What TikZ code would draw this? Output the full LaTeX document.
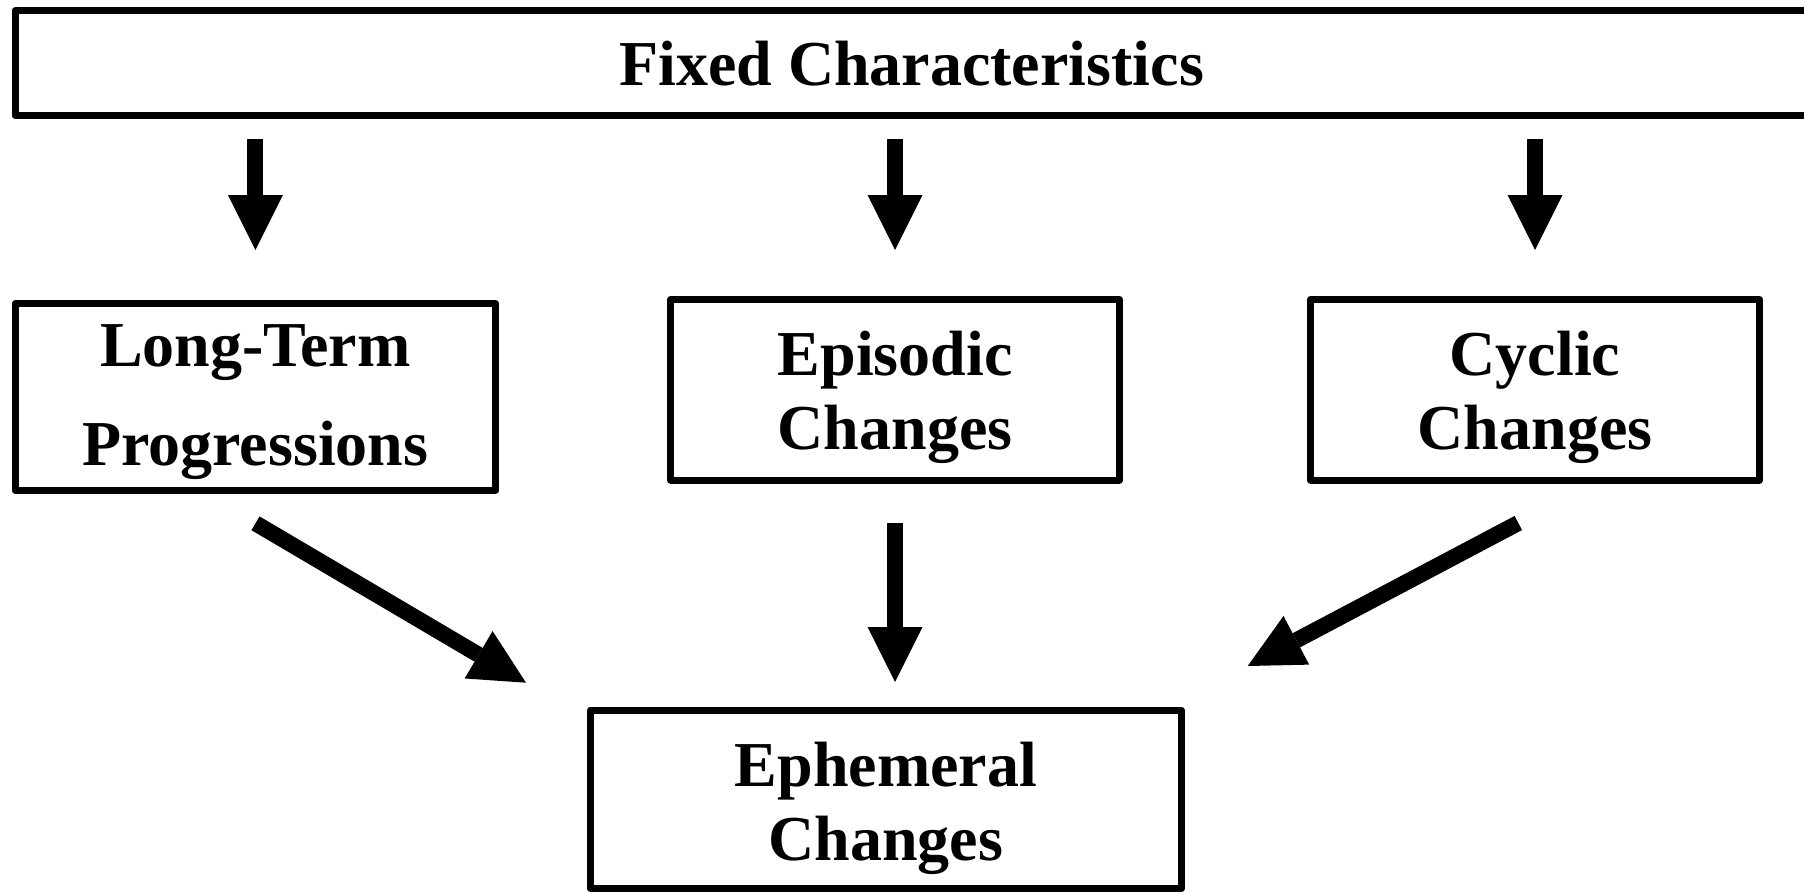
\documentclass[tikz,border=0pt]{standalone}
\usepackage{fontspec}
\setmainfont{Liberation Serif}
\usetikzlibrary{arrows.meta}
\begin{document}
\begin{tikzpicture}[x=1pt,y=-1pt,
  box/.style={draw, line width=7pt, line join=round, inner sep=0pt, outer sep=0pt,
    align=center, font=\bfseries\fontsize{64}{74}\selectfont},
  bigarrow/.style={line width=16pt, line cap=butt,
    -{Triangle[length=55pt,width=55pt,line width=0pt]}}]
\useasboundingbox (0,0) rectangle (1804,892);
\fill[white] (0,0) rectangle (1804,892);
% boxes
\node[box, minimum width=1793pt, minimum height=105pt] (fixed) at (911.5,63.2)
  {\rule{0pt}{63.6pt}Fixed Characteristics\rule[-20pt]{0pt}{0pt}};
\node[box, minimum width=480.8pt, minimum height=187pt,
  font=\bfseries\fontsize{64}{99}\selectfont] (lt) at (255.4,397)
  {\rule{0pt}{57pt}Long-Term\\Progressions\rule[-20pt]{0pt}{0pt}};
\node[box, minimum width=448.6pt, minimum height=180.5pt,
  font=\bfseries\fontsize{64}{74.3}\selectfont] (ep) at (895.1,389.75)
  {\rule{0pt}{64.8pt}Episodic\\Changes\rule[-20pt]{0pt}{0pt}};
\node[box, minimum width=449pt, minimum height=180.5pt,
  font=\bfseries\fontsize{64}{74.3}\selectfont] (cy) at (1535,389.75)
  {\rule{0pt}{64.8pt}Cyclic\\Changes\rule[-20pt]{0pt}{0pt}};
\node[box, minimum width=591.3pt, minimum height=178.5pt,
  font=\bfseries\fontsize{64}{74}\selectfont] (eph) at (885.9,799.25)
  {\rule{0pt}{67.5pt}Ephemeral\\Changes\rule[-20pt]{0pt}{0pt}};
% free ends of the diagonal arrows
\coordinate (ltout) at (255.5,523.3);
\coordinate (ephL) at (526,682.7);
\coordinate (cyout) at (1518.3,523);
\coordinate (ephR) at (1247.7,666);
% arrows
\draw[bigarrow, shorten <=23.3pt, shorten >=53.5pt] (fixed.south -| lt.north) -- (lt.north);
\draw[bigarrow, shorten <=23.3pt, shorten >=49.5pt] (fixed.south -| ep.north) -- (ep.north);
\draw[bigarrow, shorten <=23.3pt, shorten >=49.5pt] (fixed.south -| cy.north) -- (cy.north);
\draw[bigarrow, shorten <=43pt, shorten >=28pt] (ep.south) -- (ep.south |- eph.north);
\draw[bigarrow] (ltout) -- (ephL);
\draw[bigarrow] (cyout) -- (ephR);
\end{tikzpicture}
\end{document}
